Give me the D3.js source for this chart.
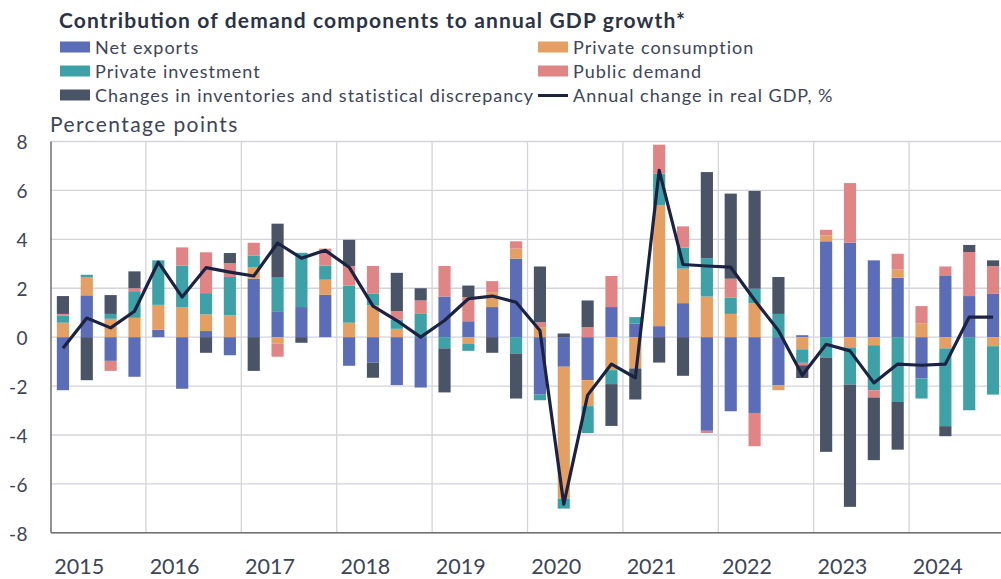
<!DOCTYPE html>
<html><head><meta charset="utf-8">
<script src="https://cdn.jsdelivr.net/npm/d3@7"></script>
<style>
html,body{margin:0;padding:0;background:#fff;}
svg{display:block;font-family:Lato,"Open Sans",sans-serif;}
</style></head>
<body><svg id="c" width="1001" height="579"></svg>
<script>
// ---- data (quarterly, 2015Q1 - 2024Q4) ----
const years = ["2015","2016","2017","2018","2019","2020","2021","2022","2023","2024"];
const quarters = years.flatMap(y => ["Q1","Q2","Q3","Q4"].map(q => y + q));
const netExports = [-2.17,1.71,-0.97,-1.62, 0.30,-2.11,0.25,-0.74, 2.39,1.06,1.23,1.73, -1.17,-1.04,-1.96,-2.06, 1.66,0.65,1.23,3.21, -2.35,-1.21,-1.76,1.23, 0.55,0.45,1.39,-3.83, -3.03,-3.10,-1.96,0.08, 3.92,3.86,3.14,2.43, -1.69,2.50,1.68,1.77];
const privateConsumption = [0.59,0.75,0.75,0.79, 1.02,1.23,0.68,0.89, 0.48,-0.26,0,0.62, 0.59,1.30,0.34,0, 0,-0.26,0.61,0.41, 0.41,-5.39,-1.06,-1.35, -1.28,4.94,1.41,1.66, 0.95,1.39,-0.21,-0.50, 0.24,-0.42,-0.33,0.33, 0.57,-0.46,0,-0.37];
const privateInvestment = [0.30,0.09,0.20,1.09, 1.82,1.70,0.87,1.57, 0.47,1.40,2.22,0.58, 1.52,0.47,0.37,0.95, -0.46,-0.30,0,-0.67, -0.23,-0.41,-1.10,-0.57, 0.27,1.29,0.86,1.57, 0.66,0.59,0.95,-0.55, -0.83,-1.52,-1.84,-2.65, -0.82,-3.18,-2.99,-1.98];
const publicDemand = [0.06,0,-0.41,0.12, 0,0.74,1.67,0.57, 0.52,-0.54,0,0.69, 0.80,1.14,0.35,0.55, 1.25,0.99,0.45,0.30, 0.20,0,0.41,1.27, 0,1.19,0.87,-0.09, 0.78,-1.36,0,-0.10, 0.23,2.44,-0.30,0.65, 0.70,0.39,1.80,1.14];
const inventories = [0.73,-1.76,0.77,0.69, 0,0,-0.64,0.41, -1.38,2.18,-0.23,0, 1.07,-0.62,1.57,0.50, -1.80,0.47,-0.64,-1.84, 2.28,0.15,1.09,-1.71, -1.27,-1.04,-1.58,3.52, 3.48,4.00,1.51,-0.52, -3.86,-5.00,-2.56,-1.95, 0,-0.41,0.29,0.23];
const gdpGrowth = [-0.45,0.78,0.38,1.06, 3.07,1.64,2.84,2.66, 2.50,3.85,3.23,3.55, 2.86,1.27,0.68,0.00, 0.68,1.57,1.68,1.43, 0.27,-6.83,-2.37,-1.10, -1.66,6.82,2.97,2.91, 2.86,1.52,0.27,-1.56, -0.29,-0.56,-1.87,-1.10, -1.15,-1.10,0.82,0.82];
const yTicks = [-8,-6,-4,-2,0,2,4,6,8];

const seriesNames = ["Net exports","Private consumption","Private investment","Public demand","Changes in inventories and statistical discrepancy"];
const seriesValues = [netExports, privateConsumption, privateInvestment, publicDemand, inventories];
const colors = ["#5a6db6","#e4a064","#3fa1a8","#e08585","#4a5467"];
const lineColor = "#1c2342";
const lineName = "Annual change in real GDP, %";

const svg = d3.select("#c");
const plotLeft = 51, plotTop = 141.5, plotBottom = 532.8;
const step = 23.85;
const x = d3.scaleBand().domain(quarters).range([plotLeft, plotLeft + step*quarters.length]).paddingInner(0.49).paddingOuter(0.245);
const y = d3.scaleLinear().domain([-8, 8]).range([plotBottom, plotTop]);

// gridlines
const g = svg.append("g");
g.selectAll("line.h").data(yTicks).join("line")
  .attr("x1", plotLeft).attr("x2", 1001).attr("y1", d => y(d)).attr("y2", d => y(d))
  .attr("stroke", "#d3d4db").attr("stroke-width", 1.3);
const yearBounds = years.slice(1).map((yr, i) => quarters[(i+1)*4]);
g.selectAll("line.v").data(yearBounds).join("line")
  .attr("x1", d => x(d) - x.step()*x.paddingInner()/2 - 0.5)
  .attr("x2", d => x(d) - x.step()*x.paddingInner()/2 - 0.5)
  .attr("y1", plotTop).attr("y2", plotBottom)
  .attr("stroke", "#d3d4db").attr("stroke-width", 1.3);

// stacked bars (diverging)
const stackData = quarters.map((q, i) => {
  const o = {q};
  seriesNames.forEach((n, k) => o[n] = seriesValues[k][i]);
  return o;
});
const stack = d3.stack().keys(seriesNames).offset(d3.stackOffsetDiverging);
const stacked = stack(stackData);
svg.append("g").selectAll("g").data(stacked).join("g")
  .attr("fill", (d, k) => colors[k])
  .selectAll("rect").data(d => d).join("rect")
  .attr("x", d => x(d.data.q))
  .attr("width", x.bandwidth())
  .attr("y", d => y(Math.max(d[0], d[1])))
  .attr("height", d => Math.abs(y(d[0]) - y(d[1])));

// axes lines
svg.append("line").attr("x1", plotLeft).attr("x2", plotLeft).attr("y1", plotTop).attr("y2", plotBottom)
  .attr("stroke", "#6e6e72").attr("stroke-width", 1.5);
svg.append("line").attr("x1", plotLeft).attr("x2", 1001).attr("y1", plotBottom).attr("y2", plotBottom)
  .attr("stroke", "#6e6e72").attr("stroke-width", 1.5);

// line
const line = d3.line().x((d, i) => x(quarters[i]) + x.bandwidth()/2).y(d => y(d));
svg.append("path").datum(gdpGrowth).attr("d", line)
  .attr("fill", "none").attr("stroke", lineColor).attr("stroke-width", 3.2).attr("stroke-linejoin", "round");

// y tick labels
svg.append("g").selectAll("text").data(yTicks).join("text")
  .attr("x", 28).attr("y", d => y(d) + 1).attr("dy", "0.36em").attr("text-anchor", "end")
  .attr("font-size", 19).attr("letter-spacing", 0.5).attr("fill", "#3d4558").text(d => d);

// year labels
svg.append("g").selectAll("text").data(years).join("text")
  .attr("x", (d, i) => plotLeft + step*4*i + step*2 - 19.5)
  .attr("y", 573.5).attr("text-anchor", "middle")
  .attr("font-size", 21.5).attr("fill", "#3d4558").text(d => d);

// title & axis title
svg.append("text").attr("x", 59).attr("y", 28).attr("font-size", 21).attr("font-weight", "bold")
  .attr("textLength", 626).attr("lengthAdjust", "spacing")
  .attr("fill", "#2b3346").text("Contribution of demand components to annual GDP growth*");
svg.append("text").attr("x", 50).attr("y", 132).attr("font-size", 21).attr("letter-spacing", 1.4)
  .attr("fill", "#3d4558").text("Percentage points");

// legend
const legendItems = [
  {name: seriesNames[0], color: colors[0], col: 0, row: 0},
  {name: seriesNames[1], color: colors[1], col: 1, row: 0},
  {name: seriesNames[2], color: colors[2], col: 0, row: 1},
  {name: seriesNames[3], color: colors[3], col: 1, row: 1},
  {name: seriesNames[4], color: colors[4], col: 0, row: 2},
  {name: lineName, color: lineColor, col: 1, row: 2, line: true}
];
const lg = svg.append("g").selectAll("g").data(legendItems).join("g")
  .attr("transform", d => `translate(${d.col ? 538 : 60},${41.5 + d.row*24})`);
lg.filter(d => !d.line).append("rect").attr("width", 30).attr("height", 11).attr("fill", d => d.color);
lg.filter(d => d.line).append("line").attr("x1", 0).attr("x2", 30).attr("y1", 6).attr("y2", 6)
  .attr("stroke", d => d.color).attr("stroke-width", 3);
lg.append("text").attr("x", 35).attr("y", 12).attr("font-size", 18).attr("letter-spacing", 1.0)
  .attr("fill", "#3d4558").text(d => d.name);
</script>
</body></html>
